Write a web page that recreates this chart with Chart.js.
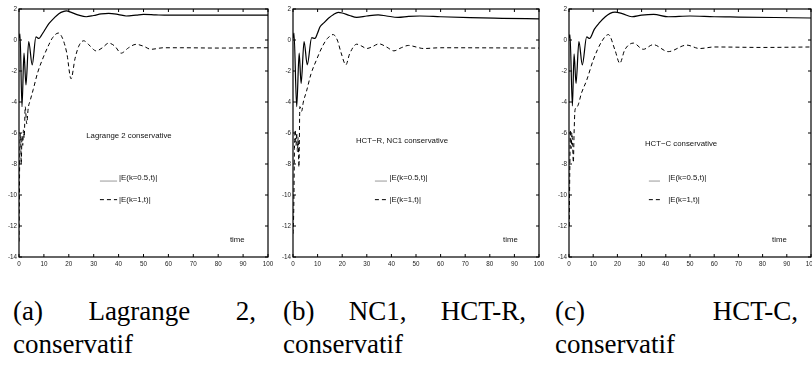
<!DOCTYPE html>
<html>
<head>
<meta charset="utf-8">
<script src="https://cdn.jsdelivr.net/npm/chart.js@4.4.1/dist/chart.umd.min.js"></script>
<style>
  body { margin: 0; background: #fff; width: 812px; height: 371px; overflow: hidden; position: relative; }
  canvas { position: absolute; top: 0; }
  .cap { position: absolute; font-family: "Liberation Serif", serif; font-size: 27px; line-height: 28px; color: #000; white-space: nowrap; }
  .j { width: 243px; text-align: justify; text-align-last: justify; }
</style>
</head>
<body>
<canvas id="pa" width="280" height="280" style="left:0px"></canvas>
<canvas id="pb" width="280" height="280" style="left:272px"></canvas>
<canvas id="pc" width="260" height="280" style="left:552px"></canvas>

<div class="cap j" style="left:13px;top:297px">(a) Lagrange 2,</div>
<div class="cap" style="left:13px;top:330px">conservatif</div>
<div class="cap j" style="left:283px;top:297px">(b) NC1, HCT-R,</div>
<div class="cap" style="left:283px;top:330px">conservatif</div>
<div class="cap j" style="left:555px;top:297px">(c) HCT-C,</div>
<div class="cap" style="left:555px;top:330px">conservatif</div>

<script>
// axis ticks
const xTicks = [0, 10, 20, 30, 40, 50, 60, 70, 80, 90, 100];
const yTicks = [2, 0, -2, -4, -6, -8, -10, -12, -14];

// (a) Lagrange 2 : |E(k=0.5,t)| solid, |E(k=1,t)| dashed
const tA1 = [0, 0.4, 1.2, 2.0, 2.8, 3.9, 5.3, 6.8, 8.0, 9.0, 10, 12, 14, 16, 18, 19, 21, 24, 27, 30, 33, 36, 40, 43, 47, 50, 55, 60, 70, 80, 90, 100];
const eA1 = [0.1, 0.4, -4.3, -0.85, -2.9, -0.1, -1.6, 0.2, 0.1, 0.3, 0.55, 1.05, 1.4, 1.7, 1.85, 1.88, 1.78, 1.6, 1.5, 1.58, 1.68, 1.72, 1.64, 1.55, 1.6, 1.65, 1.62, 1.6, 1.6, 1.6, 1.6, 1.6];
const tA2 = [0, 0.3, 0.6, 0.9, 1.2, 1.5, 1.8, 2.1, 2.5, 3.1, 3.7, 4.5, 5.7, 7.5, 9.8, 12, 13.5, 15.8, 17.5, 19.2, 20.9, 22.5, 24, 26, 28, 31, 33.5, 36, 38.5, 41, 44, 47, 50, 53, 58, 65, 80, 100];
const eA2 = [-13, -7.5, -6.0, -8.0, -6.2, -6.8, -5.8, -6.3, -4.3, -5.4, -4.4, -3.9, -3.2, -2.1, -1.1, -0.3, 0.15, 0.45, 0.1, -0.85, -2.5, -1.2, -0.4, -0.05, -0.3, -0.7, -0.5, -0.2, -0.4, -0.85, -0.5, -0.28, -0.4, -0.6, -0.5, -0.5, -0.52, -0.5];

// (b) HCT-R, NC1
const tB1 = [0, 0.4, 1.5, 2.5, 3.3, 4.5, 5.8, 7.6, 8.9, 10, 11, 12.5, 14.4, 16.5, 18.4, 20, 23, 25.9, 30, 34.6, 38, 42.7, 47, 51.6, 60, 72, 85, 100];
const eB1 = [0.1, 0.45, -4.3, -0.85, -2.8, -0.1, -1.6, 0.15, 0.1, 0.45, 0.85, 1.1, 1.4, 1.65, 1.78, 1.74, 1.58, 1.46, 1.55, 1.62, 1.55, 1.46, 1.52, 1.55, 1.5, 1.44, 1.4, 1.36];
const tB2 = [0, 0.3, 0.6, 0.9, 1.2, 1.5, 1.8, 2.1, 2.4, 2.8, 3.5, 4.2, 5.5, 7.3, 9.5, 12, 14, 16.3, 18, 19.5, 21.5, 23, 25.9, 28, 30, 32, 35, 38, 41, 44, 47, 50, 53, 60, 100];
const eB2 = [-12.5, -11, -7, -5.8, -6.8, -6.0, -7.2, -6.3, -8.2, -4.3, -4.6, -4.0, -3.3, -2.2, -1.3, -0.4, 0.1, 0.35, 0.0, -0.8, -1.6, -0.9, -0.27, -0.4, -0.55, -0.45, -0.25, -0.45, -0.7, -0.5, -0.35, -0.45, -0.55, -0.5, -0.52];

// (c) HCT-C
const tC1 = [0, 0.4, 1.4, 2.1, 2.9, 4.1, 5.5, 7.3, 8.5, 10.5, 12.5, 15, 17, 19, 22, 26, 30, 35, 41, 50, 60, 70, 85, 100];
const eC1 = [0.1, 0.35, -4.25, -0.9, -2.8, -0.1, -1.6, 0.2, 0.1, 0.7, 1.1, 1.5, 1.72, 1.8, 1.7, 1.5, 1.6, 1.65, 1.5, 1.55, 1.5, 1.48, 1.45, 1.42];
const tC2 = [0.1, 0.3, 0.6, 0.9, 1.2, 1.5, 1.8, 2.1, 2.5, 3.4, 5.2, 7.3, 10, 13.5, 16.3, 19, 21, 23, 26.6, 30.7, 34.8, 41, 48.6, 54, 60, 80, 100];
const eC2 = [-12, -8.8, -5.8, -7.0, -6.0, -6.8, -7.9, -6.0, -4.5, -4.3, -3.4, -2.6, -1.3, -0.1, 0.35, -0.65, -1.5, -0.65, -0.2, -0.6, -0.3, -0.75, -0.33, -0.55, -0.45, -0.48, -0.45];

const legendNames = ['|E(k=0.5,t)|', '|E(k=1,t)|'];

const pts = (ts, vs) => ts.map((t, i) => ({ x: t, y: vs[i] }));

// frame, inward ticks and the texts written inside the axes
const decor = {
  id: 'decor',
  afterDraw(chart, args, o) {
    const { ctx, chartArea: a, scales: { x, y } } = chart;
    ctx.save();
    ctx.strokeStyle = '#000';
    ctx.lineWidth = 1.2;
    ctx.setLineDash([]);
    ctx.strokeRect(a.left, a.top, a.right - a.left, a.bottom - a.top);
    ctx.lineWidth = 1;
    ctx.beginPath();
    xTicks.forEach(v => {
      const px = x.getPixelForValue(v);
      ctx.moveTo(px, a.bottom); ctx.lineTo(px, a.bottom - 3);
      ctx.moveTo(px, a.top); ctx.lineTo(px, a.top + 3);
    });
    yTicks.forEach(v => {
      const py = y.getPixelForValue(v);
      ctx.moveTo(a.left, py); ctx.lineTo(a.left + 3, py);
      ctx.moveTo(a.right, py); ctx.lineTo(a.right - 3, py);
    });
    ctx.stroke();

    ctx.fillStyle = '#111';
    ctx.font = '7.8px "Liberation Sans", Arial, sans-serif';
    ctx.textBaseline = 'middle';
    ctx.fillText(o.title, x.getPixelForValue(o.titleAt[0]), y.getPixelForValue(o.titleAt[1]));
    ctx.fillText('time', x.getPixelForValue(o.timeAt[0]), y.getPixelForValue(o.timeAt[1]));

    const [l0, l1, lt] = o.legendX;
    let py = y.getPixelForValue(-9.1);
    ctx.strokeStyle = '#999';
    ctx.beginPath();
    ctx.moveTo(x.getPixelForValue(l0), py); ctx.lineTo(x.getPixelForValue(l1), py);
    ctx.stroke();
    ctx.fillText(legendNames[0], x.getPixelForValue(lt), y.getPixelForValue(-8.9));

    py = y.getPixelForValue(-10.3);
    ctx.strokeStyle = '#000';
    ctx.setLineDash([4, 3]);
    ctx.beginPath();
    ctx.moveTo(x.getPixelForValue(l0), py); ctx.lineTo(x.getPixelForValue(l1), py);
    ctx.stroke();
    ctx.fillText(legendNames[1], x.getPixelForValue(lt), py);
    ctx.restore();
  }
};

function panel(id, yWidth, padRight, s1, s2, deco) {
  new Chart(document.getElementById(id), {
    type: 'scatter',
    data: {
      datasets: [
        { data: s1, showLine: true, borderColor: '#000', borderWidth: 1.2, pointRadius: 0, cubicInterpolationMode: 'monotone' },
        { data: s2, showLine: true, borderColor: '#000', borderWidth: 1, borderDash: [4, 3], pointRadius: 0, cubicInterpolationMode: 'monotone' }
      ]
    },
    options: {
      responsive: false,
      animation: false,
      events: [],
      layout: { padding: { top: 9, left: 0, right: padRight, bottom: 11 } },
      plugins: { legend: { display: false }, tooltip: { enabled: false }, decor: deco },
      scales: {
        x: {
          type: 'linear', min: 0, max: 100,
          grid: { display: false, drawTicks: false }, border: { display: false },
          afterBuildTicks: s => { s.ticks = xTicks.map(v => ({ value: v })); },
          afterFit: s => { s.height = 12; s.paddingLeft = 0; s.paddingRight = 0; },
          ticks: { autoSkip: false, maxRotation: 0, padding: 3, color: '#222', font: { size: 6.3, family: '"Liberation Sans", Arial' } }
        },
        y: {
          type: 'linear', min: -14, max: 2,
          grid: { display: false, drawTicks: false }, border: { display: false },
          afterBuildTicks: s => { s.ticks = yTicks.map(v => ({ value: v })); },
          afterFit: s => { s.width = yWidth; s.paddingTop = 0; s.paddingBottom = 0; },
          ticks: { autoSkip: false, padding: 2, color: '#222', font: { size: 6.3, family: '"Liberation Sans", Arial' } }
        }
      }
    },
    plugins: [decor]
  });
}

panel('pa', 19, 12, pts(tA1, eA1), pts(tA2, eA2),
  { title: 'Lagrange 2 conservative', titleAt: [27, -6.2], timeAt: [84.7, -12.9], legendX: [32.5, 39.4, 40.2] });
panel('pb', 21, 13, pts(tB1, eB1), pts(tB2, eB2),
  { title: 'HCT\u2212R, NC1 conservative', titleAt: [25.6, -6.5], timeAt: [85.4, -12.9], legendX: [33.3, 38.2, 39.2] });
panel('pc', 17, 1, pts(tC1, eC1), pts(tC2, eC2),
  { title: 'HCT\u2212C conservative', titleAt: [31.4, -6.7], timeAt: [83.9, -12.9], legendX: [33, 37.6, 41] });
</script>
</body>
</html>
